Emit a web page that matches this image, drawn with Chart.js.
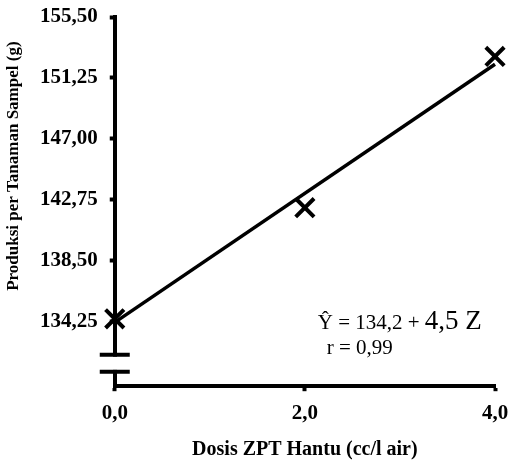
<!DOCTYPE html>
<html>
<head>
<meta charset="utf-8">
<script src="https://cdn.jsdelivr.net/npm/chart.js@4"></script>
<style>
  html, body { margin: 0; padding: 0; background: #fff; }
  #wrap { width: 512px; height: 463px; }
</style>
</head>
<body>
<div id="wrap"><canvas id="chart" width="512" height="463"></canvas></div>
<script>
// data
const doses = [0, 2, 4];                  // Dosis ZPT Hantu (cc/l air)
const observed = [134.45, 142.2, 152.75]; // produksi per tanaman sampel (g)
const fitX = [0, 4];
const fitY = [134.2, 152.2];              // Ŷ = 134,2 + 4,5 Z
const yTicks = [134.25, 138.50, 142.75, 147.00, 151.25, 155.50];
const xTicks = [0, 2, 4];

const serif = "'Liberation Serif', 'Times New Roman', serif";

// axis break on the y axis, y title (sits a bit above centre) + regression text
const breakPlugin = {
  id: 'axisBreak',
  afterDraw(chart) {
    const ctx = chart.ctx;
    const y = chart.scales.y;
    const x0 = y.right;
    const yTop = y.getPixelForValue(131.95);
    const yBot = y.getPixelForValue(130.75);
    ctx.save();
    ctx.fillStyle = '#fff';
    ctx.fillRect(x0 - 4, yTop + 2, 8, yBot - yTop - 4);
    ctx.strokeStyle = '#000';
    ctx.lineWidth = 4;
    ctx.beginPath();
    ctx.moveTo(x0 - 15, yTop); ctx.lineTo(x0 + 15, yTop);
    ctx.moveTo(x0 - 15, yBot); ctx.lineTo(x0 + 15, yBot);
    ctx.stroke();

    // y axis title
    ctx.fillStyle = '#000';
    ctx.save();
    ctx.translate(14, y.getPixelForValue(145.1));
    ctx.rotate(-Math.PI / 2);
    ctx.textAlign = 'center';
    ctx.textBaseline = 'middle';
    ctx.font = 'bold 17px ' + serif;
    ctx.fillText('Produksi per Tanaman Sampel (g)', 0, 0);
    ctx.restore();

    // equation
    const ca = chart.chartArea;
    ctx.textBaseline = 'alphabetic';
    ctx.textAlign = 'left';
    const ex = ca.left + 203, ey = ca.top + 312;
    ctx.font = '21px ' + serif;
    const part1 = 'Ŷ = 134,2 + ';
    ctx.fillText(part1, ex, ey);
    const w1 = ctx.measureText(part1).width;
    ctx.font = '27px ' + serif;
    ctx.fillText('4,5 Z', ex + w1, ey);
    ctx.font = '21px ' + serif;
    ctx.fillText('r = 0,99', ex + 9, ey + 25);
    ctx.restore();
  }
};

new Chart(document.getElementById('chart'), {
  type: 'scatter',
  data: {
    datasets: [{
      label: 'Observasi',
      data: doses.map((d, i) => ({ x: d, y: observed[i] })),
      pointStyle: 'crossRot',
      pointRadius: 13,
      pointBorderWidth: 4,
      borderColor: '#000',
      backgroundColor: '#000',
      order: 0
    }, {
      label: 'Regresi',
      type: 'line',
      data: fitX.map((d, i) => ({ x: d, y: fitY[i] })),
      borderColor: '#000',
      borderWidth: 3.5,
      pointRadius: 0,
      fill: false,
      order: 1
    }]
  },
  options: {
    responsive: false,
    animation: false,
    clip: false,
    layout: { padding: { top: 16, right: 16, bottom: 3, left: 28 } },
    plugins: { legend: { display: false }, tooltip: { enabled: false } },
    scales: {
      x: {
        type: 'linear',
        min: 0, max: 4,
        afterBuildTicks: s => { s.ticks = xTicks.map(v => ({ value: v })); },
        afterFit: s => { s.paddingLeft = 0; s.paddingRight = 0; },
        grid: { display: true, drawOnChartArea: false, drawTicks: true, tickLength: 5, tickWidth: 4, color: '#000' },
        border: { display: true, color: '#000', width: 4 },
        ticks: {
          color: '#000', padding: 14,
          font: { family: serif, size: 21, weight: 'bold', lineHeight: 0.8 },
          callback: v => v.toFixed(1).replace('.', ',')
        },
        title: {
          display: true, text: 'Dosis ZPT Hantu (cc/l air)', color: '#000',
          font: { family: serif, size: 20, weight: 'bold', lineHeight: 1.0 }, padding: { top: 4, bottom: 0 }
        }
      },
      y: {
        min: 129.75, max: 155.5,
        afterBuildTicks: s => { s.ticks = yTicks.map(v => ({ value: v })); },
        afterFit: s => { s.paddingTop = 0; s.paddingBottom = 0; },
        grid: { display: true, drawOnChartArea: false, drawTicks: true, tickLength: 5, tickWidth: 4, color: '#000' },
        border: { display: true, color: '#000', width: 4 },
        ticks: {
          color: '#000', padding: 12,
          font: { family: serif, size: 21, weight: 'bold', lineHeight: 1.0 },
          callback: v => v.toFixed(2).replace('.', ',')
        },
        title: { display: false }
      }
    }
  },
  plugins: [breakPlugin]
});
</script>
</body>
</html>
